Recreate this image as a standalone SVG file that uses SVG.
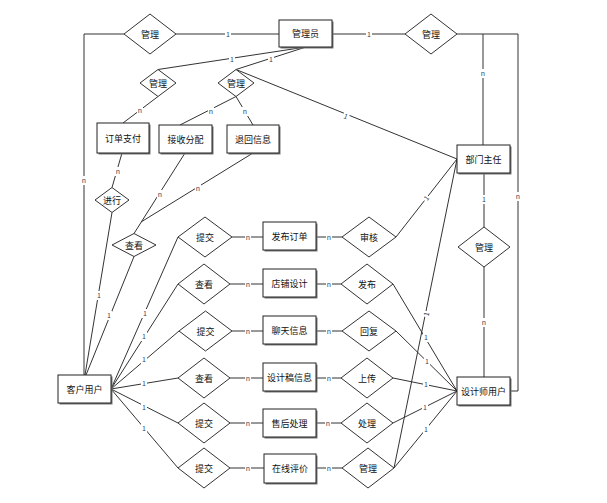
<svg xmlns="http://www.w3.org/2000/svg" width="607" height="503" viewBox="0 0 607 503">
<style>
.bg{fill:#fff}
.ent rect.s{fill:#777}
.ent rect.b{fill:#fff;stroke:#222;stroke-width:1}
.rel polygon{fill:#fff;stroke:#333;stroke-width:1}
text{font-family:"Noto Sans CJK SC","Liberation Sans",sans-serif;fill:#111}
.t{font-size:9px;text-anchor:middle;dominant-baseline:central}
.c line,.c polyline{stroke:#333;stroke-width:1;fill:none}
.lb rect{fill:#fff}
.lb text{font-size:7px;text-anchor:middle;dominant-baseline:central;fill:#345}
</style>
<rect class="bg" width="607" height="503"/>
<g class="c" id="connectors">
<line x1="176" y1="34" x2="279" y2="34"/>
<polyline points="124,34 84,34 84,375"/>
<line x1="332" y1="34" x2="405" y2="34"/>
<polyline points="457,34 518,34 518,391 510,391"/>
<line x1="483" y1="34" x2="483" y2="145"/>
<line x1="306" y1="47" x2="158" y2="69.5"/>
<line x1="306" y1="47" x2="236" y2="69.5"/>
<line x1="236" y1="69.5" x2="457" y2="159"/>
<line x1="158" y1="96.5" x2="123" y2="123"/>
<line x1="236" y1="96.5" x2="180" y2="125"/>
<line x1="236" y1="96.5" x2="253" y2="125"/>
<line x1="122" y1="153" x2="112" y2="187.5"/>
<line x1="112" y1="212.5" x2="85" y2="375"/>
<line x1="185" y1="153" x2="134" y2="233.5"/>
<line x1="253" y1="153" x2="141" y2="222"/>
<line x1="134" y1="256.5" x2="86" y2="375"/>
<line x1="111" y1="389" x2="178" y2="237"/>
<line x1="111" y1="389" x2="178" y2="284"/>
<line x1="111" y1="389" x2="179" y2="331"/>
<line x1="111" y1="389" x2="178" y2="378"/>
<line x1="111" y1="389" x2="178" y2="423"/>
<line x1="111" y1="389" x2="178" y2="468"/>
<line x1="232" y1="237" x2="263" y2="237"/>
<line x1="230" y1="284" x2="263" y2="284"/>
<line x1="232" y1="331" x2="263" y2="331"/>
<line x1="230" y1="378" x2="263" y2="378"/>
<line x1="230" y1="423" x2="263" y2="423"/>
<line x1="230" y1="468" x2="264" y2="468"/>
<line x1="316" y1="237" x2="342" y2="237"/>
<line x1="316" y1="284" x2="341" y2="284"/>
<line x1="316" y1="331" x2="342" y2="331"/>
<line x1="316" y1="378" x2="341" y2="378"/>
<line x1="316" y1="423" x2="341" y2="423"/>
<line x1="316" y1="468" x2="342" y2="468"/>
<line x1="396" y1="237" x2="457" y2="159"/>
<line x1="394" y1="468" x2="457" y2="159"/>
<line x1="393" y1="284" x2="457" y2="391"/>
<line x1="396" y1="331" x2="457" y2="391"/>
<line x1="393" y1="378" x2="457" y2="391"/>
<line x1="393" y1="423" x2="457" y2="391"/>
<line x1="394" y1="468" x2="457" y2="391"/>
<line x1="484" y1="173" x2="484" y2="227"/>
<line x1="484" y1="267" x2="484" y2="377"/>
</g>
<g class="lb" id="labels">
<rect x="225" y="29" width="6" height="9"/><text x="228" y="33.5">1</text>
<rect x="81" y="176" width="6" height="9"/><text x="84" y="180">n</text>
<rect x="366" y="29" width="6" height="9"/><text x="369" y="33.5">1</text>
<rect x="515" y="192" width="6" height="9"/><text x="518" y="196">n</text>
<rect x="480" y="69" width="6" height="9"/><text x="483" y="73">n</text>
<rect x="229" y="55" width="6" height="9"/><text x="232" y="59">1</text>
<rect x="268" y="55" width="6" height="9"/><text x="271" y="59">1</text>
<g transform="translate(346,116) rotate(22)"><rect x="-3" y="-4" width="6" height="8"/><text x="0" y="0" fill="#777">1</text></g>
<rect x="137" y="106" width="6" height="9"/><text x="140" y="110">n</text>
<rect x="208" y="107" width="6" height="9"/><text x="211" y="111">n</text>
<rect x="242" y="107" width="6" height="9"/><text x="245" y="111">n</text>
<rect x="115" y="167" width="6" height="9"/><text x="118" y="171">n</text>
<rect x="96" y="291" width="6" height="9"/><text x="99" y="295">1</text>
<rect x="157" y="190" width="6" height="9"/><text x="160" y="194">n</text>
<rect x="195" y="184" width="6" height="9"/><text x="198" y="188">n</text>
<rect x="106" y="311" width="6" height="9"/><text x="109" y="315">1</text>
<rect x="142" y="309" width="6" height="9"/><text x="145" y="313">1</text>
<rect x="141" y="332" width="6" height="9"/><text x="144" y="336">1</text>
<rect x="141" y="355" width="6" height="9"/><text x="144" y="359">1</text>
<rect x="141" y="379" width="6" height="9"/><text x="144" y="383">1</text>
<rect x="141" y="403" width="6" height="9"/><text x="144" y="407">1</text>
<rect x="141" y="424" width="6" height="9"/><text x="144" y="428">1</text>
<rect x="245" y="233" width="6" height="9"/><text x="248" y="237">n</text>
<rect x="245" y="280" width="6" height="9"/><text x="248" y="284">n</text>
<rect x="245" y="327" width="6" height="9"/><text x="248" y="331">n</text>
<rect x="245" y="374" width="6" height="9"/><text x="248" y="378">n</text>
<rect x="245" y="419" width="6" height="9"/><text x="248" y="423">n</text>
<rect x="245" y="464" width="6" height="9"/><text x="248" y="468">n</text>
<rect x="326" y="233" width="6" height="9"/><text x="329" y="237">n</text>
<rect x="326" y="280" width="6" height="9"/><text x="329" y="284">n</text>
<rect x="326" y="327" width="6" height="9"/><text x="329" y="331">n</text>
<rect x="326" y="374" width="6" height="9"/><text x="329" y="378">n</text>
<rect x="325" y="419" width="6" height="9"/><text x="328" y="423">n</text>
<rect x="326" y="464" width="6" height="9"/><text x="329" y="468">n</text>
<g transform="translate(426,198) rotate(-52)"><rect x="-3" y="-4" width="6" height="8"/><text x="0" y="0" fill="#777">1</text></g>
<g transform="translate(426,314) rotate(-78)"><rect x="-3" y="-4" width="6" height="8"/><text x="0" y="0" fill="#777">1</text></g>
<rect x="423" y="333" width="6" height="9"/><text x="426" y="337">1</text>
<rect x="424" y="357" width="6" height="9"/><text x="427" y="361">1</text>
<rect x="423" y="380" width="6" height="9"/><text x="426" y="384">1</text>
<rect x="422" y="403" width="6" height="9"/><text x="425" y="407">1</text>
<rect x="423" y="425" width="6" height="9"/><text x="426" y="429">1</text>
<rect x="481" y="195" width="6" height="9"/><text x="484" y="199">1</text>
<rect x="481" y="318" width="6" height="9"/><text x="484" y="322">n</text>
</g>
<g class="ent" id="admin"><rect class="s" x="280.5" y="21.5" width="53" height="27"/><rect class="b" x="279" y="20" width="53" height="27"/><text class="t" x="305.5" y="33.5">管理员</text></g>
<g class="ent" id="pay"><rect class="s" x="98.5" y="124.5" width="52" height="30"/><rect class="b" x="97" y="123" width="52" height="30"/><text class="t" x="123" y="138">订单支付</text></g>
<g class="ent" id="recv"><rect class="s" x="160.5" y="126.5" width="53" height="28"/><rect class="b" x="159" y="125" width="53" height="28"/><text class="t" x="185.5" y="139">接收分配</text></g>
<g class="ent" id="ret"><rect class="s" x="228.5" y="126.5" width="52" height="28"/><rect class="b" x="227" y="125" width="52" height="28"/><text class="t" x="253" y="139">退回信息</text></g>
<g class="ent" id="dept"><rect class="s" x="458.5" y="146.5" width="53" height="28"/><rect class="b" x="457" y="145" width="53" height="28"/><text class="t" x="483.5" y="159">部门主任</text></g>
<g class="ent" id="client"><rect class="s" x="59.5" y="376.5" width="53" height="28"/><rect class="b" x="58" y="375" width="53" height="28"/><text class="t" x="84.5" y="389">客户用户</text></g>
<g class="ent" id="designer"><rect class="s" x="458.5" y="378.5" width="53" height="28"/><rect class="b" x="457" y="377" width="53" height="28"/><text class="t" x="483.5" y="391">设计师用户</text></g>
<g class="ent" id="order"><rect class="s" x="264.5" y="223.5" width="53" height="28"/><rect class="b" x="263" y="222" width="53" height="28"/><text class="t" x="289.5" y="236">发布订单</text></g>
<g class="ent" id="shop"><rect class="s" x="264.5" y="270.5" width="53" height="28"/><rect class="b" x="263" y="269" width="53" height="28"/><text class="t" x="289.5" y="283">店铺设计</text></g>
<g class="ent" id="chat"><rect class="s" x="264.5" y="317.5" width="53" height="28"/><rect class="b" x="263" y="316" width="53" height="28"/><text class="t" x="289.5" y="330">聊天信息</text></g>
<g class="ent" id="draft"><rect class="s" x="264.5" y="364.5" width="53" height="28"/><rect class="b" x="263" y="363" width="53" height="28"/><text class="t" x="289.5" y="377">设计稿信息</text></g>
<g class="ent" id="after"><rect class="s" x="264.5" y="410.5" width="53" height="28"/><rect class="b" x="263" y="409" width="53" height="28"/><text class="t" x="289.5" y="423">售后处理</text></g>
<g class="ent" id="review"><rect class="s" x="265.5" y="455.5" width="52" height="29"/><rect class="b" x="264" y="454" width="52" height="29"/><text class="t" x="290" y="468.5">在线评价</text></g>
<g class="rel" id="r-mgA"><polygon points="150,14 176,34 150,54 124,34"/><text class="t" x="150" y="34">管理</text></g>
<g class="rel" id="r-mgB"><polygon points="431,14 457,34 431,54 405,34"/><text class="t" x="431" y="34">管理</text></g>
<g class="rel" id="r-mgC"><polygon points="158,69.5 176,83 158,96.5 140,83"/><text class="t" x="158" y="83">管理</text></g>
<g class="rel" id="r-mgD"><polygon points="236,69.5 254,83 236,96.5 218,83"/><text class="t" x="236" y="83">管理</text></g>
<g class="rel" id="r-do"><polygon points="112,187.5 129,200 112,212.5 95,200"/><text class="t" x="112" y="200">进行</text></g>
<g class="rel" id="r-viewE"><polygon points="134,233.5 156,245 134,256.5 112,245"/><text class="t" x="134" y="245">查看</text></g>
<g class="rel" id="r-mgF"><polygon points="484,227 510,247 484,267 458,247"/><text class="t" x="484" y="247">管理</text></g>
<g class="rel" id="r-sub1"><polygon points="205,217 232,237 205,257 178,237"/><text class="t" x="205" y="237">提交</text></g>
<g class="rel" id="r-view2"><polygon points="204,264 230,284 204,304 178,284"/><text class="t" x="204" y="284">查看</text></g>
<g class="rel" id="r-sub3"><polygon points="205.5,311 232,331 205.5,351 179,331"/><text class="t" x="205.5" y="331">提交</text></g>
<g class="rel" id="r-view4"><polygon points="204,358 230,378 204,398 178,378"/><text class="t" x="204" y="378">查看</text></g>
<g class="rel" id="r-sub5"><polygon points="204,403 230,423 204,443 178,423"/><text class="t" x="204" y="423">提交</text></g>
<g class="rel" id="r-sub6"><polygon points="204,448 230,468 204,488 178,468"/><text class="t" x="204" y="468">提交</text></g>
<g class="rel" id="r-audit"><polygon points="369,217 396,237 369,257 342,237"/><text class="t" x="369" y="237">审核</text></g>
<g class="rel" id="r-pub"><polygon points="367,264 393,284 367,304 341,284"/><text class="t" x="367" y="284">发布</text></g>
<g class="rel" id="r-reply"><polygon points="369,311 396,331 369,351 342,331"/><text class="t" x="369" y="331">回复</text></g>
<g class="rel" id="r-upload"><polygon points="367,358 393,378 367,398 341,378"/><text class="t" x="367" y="378">上传</text></g>
<g class="rel" id="r-handle"><polygon points="367,403 393,423 367,443 341,423"/><text class="t" x="367" y="423">处理</text></g>
<g class="rel" id="r-mg6"><polygon points="368,448 394,468 368,488 342,468"/><text class="t" x="368" y="468">管理</text></g>
</svg>
